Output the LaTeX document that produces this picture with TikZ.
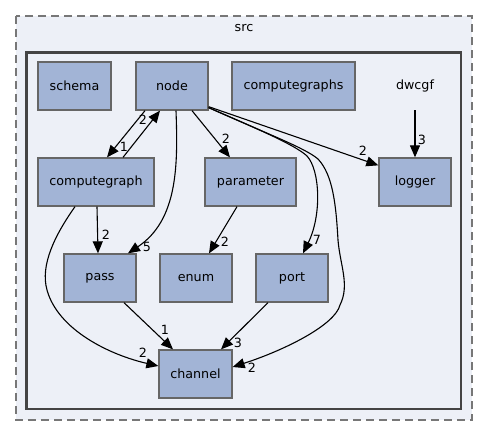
\documentclass[tikz,border=0pt]{standalone}
\usepackage{fontspec}
\setmainfont{DejaVu Sans}
\usetikzlibrary{arrows.meta}
\definecolor{nodefill}{HTML}{A2B4D6}
\definecolor{nodeline}{HTML}{666666}
\definecolor{clusterfill}{HTML}{EDF0F7}
\definecolor{innerline}{HTML}{444444}
\definecolor{outerline}{HTML}{777777}
\tikzset{
  dirbox/.style={draw=nodeline, fill=nodefill, line width=1.3pt, inner sep=0pt,
    minimum height=48pt, font=\fontsize{12.7}{15}\selectfont},
  plainbox/.style={inner sep=0pt, minimum width=72pt, minimum height=48pt,
    font=\fontsize{12.7}{15}\selectfont},
  dep/.style={line width=1.1pt, -{Triangle[length=12pt,width=10pt]}},
  elabel/.style={inner sep=0pt, font=\fontsize{12.7}{15}\selectfont},
}
\begin{document}
\begin{tikzpicture}[x=1pt,y=-1pt]
\useasboundingbox (0,0) rectangle (488,436);
% clusters
\draw[fill=clusterfill, draw=outerline, line width=1.3pt, dash pattern=on 8pt off 5pt] (16,16) rectangle (472,420);
\node[elabel] (src) at (244,28) {src};
\draw[fill=clusterfill, draw=innerline, line width=2.6pt] (26.5,52.5) rectangle (461,409);
% nodes
\node[dirbox, minimum width=73pt] (schema) at (74.5,86) {schema};
\node[dirbox, minimum width=72pt] (node) at (172,86) {node};
\node[dirbox, minimum width=123pt] (computegraphs) at (293.5,86) {computegraphs};
\node[plainbox] (dwcgf) at (415,86) {dwcgf};
\node[dirbox, minimum width=72pt] (logger) at (415,182) {logger};
\node[dirbox, minimum width=116pt] (computegraph) at (96,182) {computegraph};
\node[dirbox, minimum width=91pt] (parameter) at (250.5,182) {parameter};
\node[dirbox, minimum width=72pt] (pass) at (100,278) {pass};
\node[dirbox, minimum width=72pt] (enum) at (196,278) {enum};
\node[dirbox, minimum width=72pt] (port) at (292,278) {port};
\node[dirbox, minimum width=73pt] (channel) at (195.5,374) {channel};
% edges
\draw[dep] ([xshift=-27pt]node.south) -- ([xshift=11pt]computegraph.north);
\draw[dep] ([xshift=27pt]computegraph.north) -- ([xshift=-12pt]node.south);
\draw[dep] ([xshift=20pt]node.south) -- ([xshift=-20.5pt]parameter.north);
\draw[dep] ([yshift=4pt]node.south east) -- ([yshift=-8pt]logger.north west);
\draw[dep] (dwcgf.south) -- (logger.north);
\draw[dep] ([xshift=4pt]node.south) .. controls (178,165) and (178,220) .. ([xshift=28pt]pass.north);
\draw[dep] ([yshift=3pt]node.south east) .. controls (260,130) and (295,145) .. (307,156)
   .. controls (320,170) and (322,215) .. ([xshift=11pt]port.north);
\draw[dep] ([yshift=3pt]node.south east) .. controls (270,135) and (305,148) .. (318,159)
   .. controls (333,175) and (336,205) .. (338,240)
   .. controls (340,265) and (350,285) .. (340,305)
   .. controls (335,325) and (285,350) .. ([yshift=7pt]channel.east);
\draw[dep] ([xshift=1pt]computegraph.south) -- ([xshift=-2pt]pass.north);
\draw[dep] ([xshift=-21pt]computegraph.south) .. controls (55,235) and (40,265) .. (47,290)
   .. controls (58,330) and (110,355) .. ([yshift=8pt]channel.west);
\draw[dep] ([xshift=-13.5pt]parameter.south) -- ([xshift=13pt]enum.north);
\draw[dep] ([xshift=24pt]pass.south) -- ([xshift=-22.5pt]channel.north);
\draw[dep] ([xshift=-24pt]port.south) -- ([xshift=25.5pt]channel.north);
% edge labels
\node[elabel] (l1) at (124,147) {1};
\node[elabel] (l2) at (143,120) {2};
\node[elabel] (l3) at (226,139) {2};
\node[elabel] (l4) at (363,151) {2};
\node[elabel] (l5) at (422,140) {3};
\node[elabel] (l6) at (147,247) {5};
\node[elabel] (l7) at (317,240) {7};
\node[elabel] (l8) at (252,368) {2};
\node[elabel] (l9) at (106,235) {2};
\node[elabel] (l10) at (143,353) {2};
\node[elabel] (l11) at (225,242) {2};
\node[elabel] (l12) at (165,330) {1};
\node[elabel] (l13) at (238,343) {3};
\end{tikzpicture}
\end{document}
